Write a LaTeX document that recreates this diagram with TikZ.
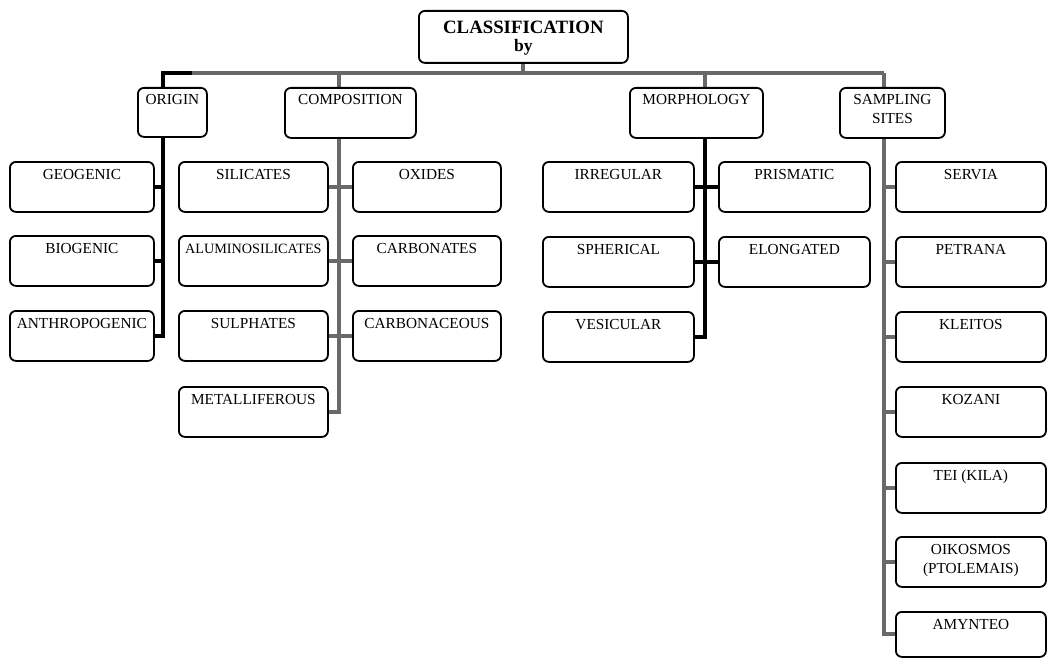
\documentclass[tikz,border=0pt]{standalone}
\usepackage{fontspec}
\setmainfont{Liberation Serif}
\usetikzlibrary{backgrounds}
\definecolor{conngray}{RGB}{105,105,105}
\tikzset{
 box/.style={draw=black, line width=1.8pt, rounded corners=6pt, fill=white, anchor=north west, inner sep=0pt},
 lbl/.style={anchor=base, inner sep=0pt, font=\fontsize{15.3}{18}\selectfont},
 ttl/.style={anchor=base, inner sep=0pt, font=\bfseries\fontsize{18.8}{21}\selectfont},
 conn/.style={line width=4pt, draw=conngray},
 connb/.style={line width=4pt, draw=black},
}
\newcommand\bx[6]{%
 \node[box, minimum width=#4pt, minimum height=#5pt] (#1) at (#2,#3) {};
 \node[lbl] (#1t) at ([yshift=-18pt]#1.north) {#6};}
\begin{document}
\begin{tikzpicture}[x=1pt,y=-1pt]
\useasboundingbox (0,0) rectangle (1048,658);
% title
\node[box, minimum width=209pt, minimum height=52pt] (title) at (418,10) {};
\node[ttl] (titlet1) at ([yshift=-24pt]title.north) {CLASSIFICATION};
\node[ttl, font=\bfseries\fontsize{17.5}{20}\selectfont] (titlet2) at ([yshift=-42pt]title.north) {by};
% level 1
\bx{orig}{137}{87}{69}{49}{ORIGIN}
\bx{comp}{284}{87}{131}{50}{COMPOSITION}
\bx{morph}{629}{87}{133}{50}{MORPHOLOGY}
\node[box, minimum width=105pt, minimum height=50pt] (samp) at (839,87) {};
\node[lbl] (sampt1) at ([yshift=-18pt]samp.north) {SAMPLING};
\node[lbl] (sampt2) at ([yshift=-37pt]samp.north) {SITES};
% origin children
\bx{geo}{9}{161}{144}{50}{GEOGENIC}
\bx{bio}{9}{235}{144}{50}{BIOGENIC}
\bx{anth}{9}{310}{144}{50}{ANTHROPOGENIC}
% composition children
\bx{sil}{178}{161}{149}{50}{SILICATES}
\bx{alu}{178}{235}{149}{50}{{\fontsize{14.2}{17}\selectfont ALUMINOSILICATES}}
\bx{sul}{178}{310}{149}{50}{SULPHATES}
\bx{met}{178}{386}{149}{50}{METALLIFEROUS}
\bx{oxi}{352}{161}{148}{50}{OXIDES}
\bx{carb}{352}{235}{148}{50}{CARBONATES}
\bx{carbo}{352}{310}{148}{50}{CARBONACEOUS}
% morphology children
\bx{irr}{542}{161}{151}{50}{IRREGULAR}
\bx{sph}{542}{236}{151}{50}{SPHERICAL}
\bx{ves}{542}{311}{151}{50}{VESICULAR}
\bx{pri}{718}{161}{151}{50}{PRISMATIC}
\bx{elo}{718}{236}{151}{50}{ELONGATED}
% sampling children
\bx{ser}{895}{161}{150}{50}{SERVIA}
\bx{pet}{895}{236}{150}{50}{PETRANA}
\bx{kle}{895}{311}{150}{50}{KLEITOS}
\bx{koz}{895}{386}{150}{50}{KOZANI}
\bx{tei}{895}{462}{150}{50}{TEI (KILA)}
\node[box, minimum width=150pt, minimum height=50pt] (oik) at (895,536) {};
\node[lbl] (oikt1) at ([yshift=-18pt]oik.north) {OIKOSMOS};
\node[lbl] (oikt2) at ([yshift=-37pt]oik.north) {(PTOLEMAIS)};
\bx{amy}{895}{611}{150}{45}{AMYNTEO}
% connectors
\begin{scope}[on background layer]
\coordinate (busL) at (163,73);
\coordinate (busL2) at (192,73);
\coordinate (busR) at (884,73);
\coordinate (cx) at (339,73);
\coordinate (mx) at (705,73);
\draw[conn] (title.south) -- (title.south |- busL);
\draw[conn] (busL) -- (busR);
\draw[connb] (busL2) -- (busL) |- (anth.east);
\draw[connb] (geo.east) -- (geo.east -| busL);
\draw[connb] (bio.east) -- (bio.east -| busL);
\draw[conn] (cx) |- (met.east);
\draw[conn] (sil.east) -- (oxi.west);
\draw[conn] (alu.east) -- (carb.west);
\draw[conn] (sul.east) -- (carbo.west);
\draw[conn] (mx) -- (mx |- morph.north);
\draw[connb] (mx |- morph.south) |- (ves.east);
\draw[connb] (irr.east) -- (pri.west);
\draw[connb] (sph.east) -- (elo.west);
\draw[conn] (busR) |- (amy.west);
\foreach \n in {ser,pet,kle,koz,tei,oik}
  \draw[conn] (\n.west) -- (\n.west -| busR);
\end{scope}
\end{tikzpicture}
\end{document}
